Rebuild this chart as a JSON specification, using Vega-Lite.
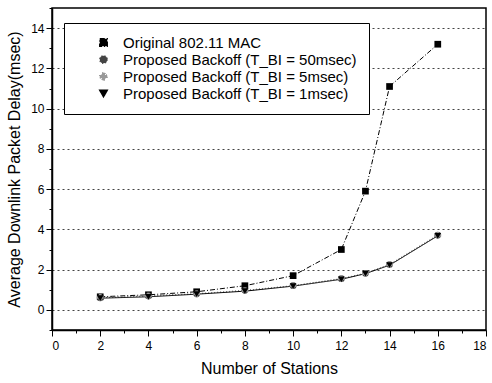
{
  "$schema": "https://vega.github.io/schema/vega-lite/v6.json",
  "width": 434,
  "height": 322,
  "autosize": "none",
  "padding": {"left": 52, "top": 8, "right": 6, "bottom": 53},
  "background": "white",
  "config": {
    "font": "Liberation Sans",
    "view": {"stroke": "black", "strokeWidth": 1.5},
    "axis": {"domainColor": "black", "tickColor": "black", "labelColor": "black", "titleColor": "black", "labelFont": "Liberation Sans", "titleFont": "Liberation Sans", "titleFontWeight": "normal", "labelFontSize": 12, "titleFontSize": 16}
  },
  "data": {"values": [
    {"s": "Original 802.11 MAC", "n": 2, "d": 0.65},
    {"s": "Original 802.11 MAC", "n": 4, "d": 0.75},
    {"s": "Original 802.11 MAC", "n": 6, "d": 0.9},
    {"s": "Original 802.11 MAC", "n": 8, "d": 1.2},
    {"s": "Original 802.11 MAC", "n": 10, "d": 1.7},
    {"s": "Original 802.11 MAC", "n": 12, "d": 3.0},
    {"s": "Original 802.11 MAC", "n": 13, "d": 5.9},
    {"s": "Original 802.11 MAC", "n": 14, "d": 11.1},
    {"s": "Original 802.11 MAC", "n": 16, "d": 13.2},
    {"s": "Proposed Backoff (T_BI = 50msec)", "n": 2, "d": 0.6},
    {"s": "Proposed Backoff (T_BI = 50msec)", "n": 4, "d": 0.7},
    {"s": "Proposed Backoff (T_BI = 50msec)", "n": 6, "d": 0.8},
    {"s": "Proposed Backoff (T_BI = 50msec)", "n": 8, "d": 0.97},
    {"s": "Proposed Backoff (T_BI = 50msec)", "n": 10, "d": 1.2},
    {"s": "Proposed Backoff (T_BI = 50msec)", "n": 12, "d": 1.55},
    {"s": "Proposed Backoff (T_BI = 50msec)", "n": 13, "d": 1.82},
    {"s": "Proposed Backoff (T_BI = 50msec)", "n": 14, "d": 2.25},
    {"s": "Proposed Backoff (T_BI = 50msec)", "n": 16, "d": 3.72},
    {"s": "Proposed Backoff (T_BI = 5msec)", "n": 2, "d": 0.62},
    {"s": "Proposed Backoff (T_BI = 5msec)", "n": 4, "d": 0.68},
    {"s": "Proposed Backoff (T_BI = 5msec)", "n": 6, "d": 0.8},
    {"s": "Proposed Backoff (T_BI = 5msec)", "n": 8, "d": 0.95},
    {"s": "Proposed Backoff (T_BI = 5msec)", "n": 10, "d": 1.2},
    {"s": "Proposed Backoff (T_BI = 5msec)", "n": 12, "d": 1.55},
    {"s": "Proposed Backoff (T_BI = 5msec)", "n": 13, "d": 1.8},
    {"s": "Proposed Backoff (T_BI = 5msec)", "n": 14, "d": 2.25},
    {"s": "Proposed Backoff (T_BI = 5msec)", "n": 16, "d": 3.7},
    {"s": "Proposed Backoff (T_BI = 1msec)", "n": 2, "d": 0.58},
    {"s": "Proposed Backoff (T_BI = 1msec)", "n": 4, "d": 0.65},
    {"s": "Proposed Backoff (T_BI = 1msec)", "n": 6, "d": 0.78},
    {"s": "Proposed Backoff (T_BI = 1msec)", "n": 8, "d": 0.93},
    {"s": "Proposed Backoff (T_BI = 1msec)", "n": 10, "d": 1.18},
    {"s": "Proposed Backoff (T_BI = 1msec)", "n": 12, "d": 1.52},
    {"s": "Proposed Backoff (T_BI = 1msec)", "n": 13, "d": 1.8},
    {"s": "Proposed Backoff (T_BI = 1msec)", "n": 14, "d": 2.22},
    {"s": "Proposed Backoff (T_BI = 1msec)", "n": 16, "d": 3.68}
  ]},
  "encoding": {
    "x": {"field": "n", "type": "quantitative", "scale": {"domain": [0, 18], "nice": false, "zero": false},
      "axis": {"title": "Number of Stations", "values": [0,1,2,3,4,5,6,7,8,9,10,11,12,13,14,15,16,17,18], "labelExpr": "datum.value % 2 == 0 ? datum.label : ''", "tickSize": {"expr": "datum.value % 2 == 0 ? 6 : 3"}, "grid": false, "titlePadding": 9, "labelPadding": 4, "domainWidth": 1.5}},
    "y": {"field": "d", "type": "quantitative", "scale": {"domain": [-1, 15], "nice": false, "zero": false},
      "axis": {"title": "Average Downlink Packet Delay(msec)", "values": [-1,0,1,2,3,4,5,6,7,8,9,10,11,12,13,14,15], "labelExpr": "datum.value % 2 == 0 ? datum.label : ''", "tickSize": {"expr": "datum.value % 2 == 0 ? 6 : 3"}, "grid": true, "gridDash": [2, 3], "gridColor": "#444", "gridOpacity": {"expr": "datum.value % 2 == 0 ? 1 : 0"}, "titlePadding": 8, "domainWidth": 1.5}},
    "color": {"field": "s", "type": "nominal", "sort": null,
      "scale": {"domain": ["Original 802.11 MAC", "Proposed Backoff (T_BI = 50msec)", "Proposed Backoff (T_BI = 5msec)", "Proposed Backoff (T_BI = 1msec)"], "range": ["#000000", "#444444", "#999999", "#000000"]},
      "legend": {"title": null, "orient": "none", "legendX": 12, "legendY": 15, "strokeColor": "black", "fillColor": "white", "padding": 12, "labelFontSize": 15, "labelFont": "Liberation Sans", "labelColor": "black", "symbolSize": 55, "symbolOffset": 20, "labelOffset": 12, "rowPadding": 1, "labelLimit": 400}}
  },
  "layer": [
    {"mark": {"type": "line", "strokeWidth": 1},
     "encoding": {"strokeDash": {"field": "s", "type": "nominal", "sort": null,
       "scale": {"domain": ["Original 802.11 MAC", "Proposed Backoff (T_BI = 50msec)", "Proposed Backoff (T_BI = 5msec)", "Proposed Backoff (T_BI = 1msec)"], "range": [[5, 2, 1, 2], [1, 2], [1, 2], [1, 0]]}, "legend": null}}},
    {"mark": {"type": "point", "filled": true, "opacity": 1},
     "encoding": {"shape": {"field": "s", "type": "nominal", "sort": null,
       "scale": {"domain": ["Original 802.11 MAC", "Proposed Backoff (T_BI = 50msec)", "Proposed Backoff (T_BI = 5msec)", "Proposed Backoff (T_BI = 1msec)"], "range": ["square", "circle", "cross", "triangle-down"]}},
       "size": {"value": 45}}}
  ]
}
